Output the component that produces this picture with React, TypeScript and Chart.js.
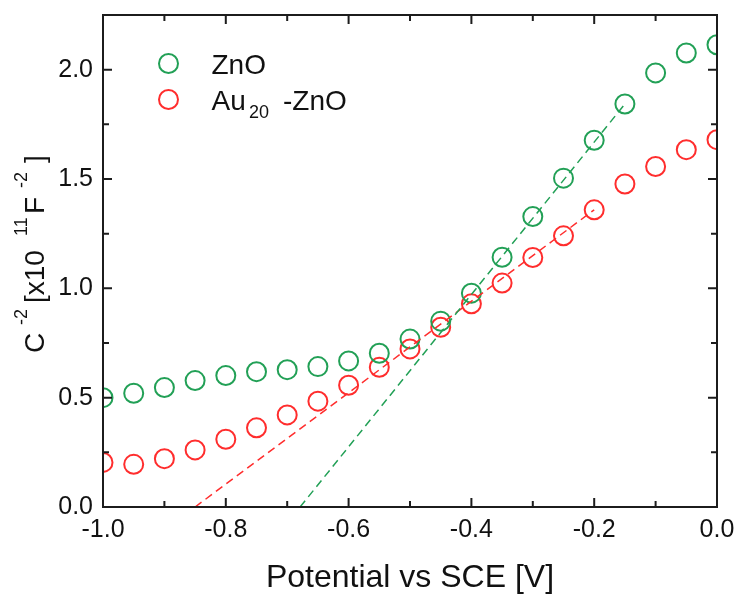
import React, { useEffect, useRef } from 'react';
import { Chart, registerables } from 'chart.js';

Chart.register(...registerables);

// ---- data ----
const potentials = [-1.0, -0.95, -0.9, -0.85, -0.8, -0.75, -0.7, -0.65, -0.6, -0.55, -0.5, -0.45, -0.4, -0.35, -0.3, -0.25, -0.2, -0.15, -0.1, -0.05, 0.0];
const znoValues = [0.5, 0.52, 0.546, 0.578, 0.601, 0.619, 0.628, 0.642, 0.668, 0.703, 0.768, 0.85, 0.978, 1.142, 1.328, 1.504, 1.677, 1.843, 1.985, 2.076, 2.114];
const auValues = [0.204, 0.195, 0.221, 0.261, 0.31, 0.362, 0.421, 0.484, 0.557, 0.639, 0.723, 0.822, 0.929, 1.024, 1.141, 1.24, 1.359, 1.477, 1.557, 1.634, 1.68];
const znoFitX = [-0.679, -0.15];
const znoFitY = [0, 1.843];
const auFitX = [-0.85, -0.2];
const auFitY = [0, 1.359];
const xMajorTicks = [-1.0, -0.8, -0.6, -0.4, -0.2, 0.0];
const xMinorTicks = [-0.9, -0.7, -0.5, -0.3, -0.1];
const yMajorTicks = [0, 0.5, 1.0, 1.5, 2.0];
const yMinorTicks = [0.25, 0.75, 1.25, 1.75];

const FONT = '"Liberation Sans", Arial, Helvetica, sans-serif';
const GREEN = 'rgb(34,160,86)';
const RED = 'rgb(255,45,45)';
const AXIS = '#1c1c1c';

export default function App() {
  const ref = useRef<HTMLCanvasElement>(null);

  useEffect(() => {
    const canvas = ref.current;
    if (!canvas) return;
    const pts = (xs: number[], ys: number[]) => xs.map((x, i) => ({ x, y: ys[i] }));

    const decor = {
      id: 'decor',
      afterDraw(chart: any) {
        const { ctx, chartArea: a, scales } = chart;
        const xs = scales.x;
        const ys = scales.y;
        ctx.save();
        // frame
        ctx.strokeStyle = AXIS;
        ctx.lineWidth = 2;
        ctx.strokeRect(a.left, a.top, a.right - a.left, a.bottom - a.top);
        // inward ticks on all sides
        const xt = (v: number, len: number) => {
          const p = xs.getPixelForValue(v);
          ctx.beginPath();
          ctx.moveTo(p, a.bottom);
          ctx.lineTo(p, a.bottom - len);
          ctx.moveTo(p, a.top);
          ctx.lineTo(p, a.top + len);
          ctx.stroke();
        };
        const yt = (v: number, len: number) => {
          const p = ys.getPixelForValue(v);
          ctx.beginPath();
          ctx.moveTo(a.left, p);
          ctx.lineTo(a.left + len, p);
          ctx.moveTo(a.right, p);
          ctx.lineTo(a.right - len, p);
          ctx.stroke();
        };
        xMajorTicks.forEach((v) => xt(v, 9));
        xMinorTicks.forEach((v) => xt(v, 6));
        yMajorTicks.forEach((v) => yt(v, 9));
        yMinorTicks.forEach((v) => yt(v, 6));

        // legend
        ctx.lineWidth = 2;
        ctx.strokeStyle = GREEN;
        ctx.beginPath();
        ctx.arc(168.5, 63.5, 9.5, 0, Math.PI * 2);
        ctx.stroke();
        ctx.strokeStyle = RED;
        ctx.beginPath();
        ctx.arc(168.5, 99.5, 9.5, 0, Math.PI * 2);
        ctx.stroke();
        ctx.fillStyle = '#111';
        ctx.textAlign = 'left';
        ctx.textBaseline = 'alphabetic';
        ctx.font = `28px ${FONT}`;
        ctx.fillText('ZnO', 211.5, 73.5);
        ctx.fillText('Au', 211.5, 110);
        ctx.fillText('-ZnO', 283, 110);
        ctx.font = `18px ${FONT}`;
        ctx.fillText('20', 249, 118);

        // x axis title
        ctx.font = `32px ${FONT}`;
        ctx.textAlign = 'center';
        ctx.fillText('Potential vs SCE [V]', (a.left + a.right) / 2, 587);

        // y axis title (rotated, with superscripts)
        const segs: [string, number, number, number][] = [
          ['C', 28, 43.5, 353],
          ['-2', 18, 27, 325],
          ['[x10', 28, 43.5, 303],
          ['11', 18, 27, 236],
          ['F', 28, 43.5, 214],
          ['-2', 18, 27, 188],
          [']', 28, 43.5, 163],
        ];
        ctx.textAlign = 'left';
        segs.forEach(([t, size, bx, by]) => {
          ctx.save();
          ctx.translate(bx, by);
          ctx.rotate(-Math.PI / 2);
          ctx.font = `${size}px ${FONT}`;
          ctx.fillText(t, 0, 0);
          ctx.restore();
        });
        ctx.restore();
      },
    };

    const chart = new Chart(canvas, {
      type: 'scatter',
      data: {
        datasets: [
          {
            label: 'ZnO fit',
            data: pts(znoFitX, znoFitY),
            showLine: true,
            borderColor: GREEN,
            borderWidth: 1.5,
            borderDash: [8, 5],
            pointRadius: 0,
            fill: false,
            clip: 0,
          },
          {
            label: 'Au20-ZnO fit',
            data: pts(auFitX, auFitY),
            showLine: true,
            borderColor: RED,
            borderWidth: 1.5,
            borderDash: [8, 5],
            pointRadius: 0,
            fill: false,
            clip: 0,
          },
          {
            label: 'ZnO',
            data: pts(potentials, znoValues),
            showLine: false,
            pointStyle: 'circle',
            pointRadius: 9.5,
            borderWidth: 2,
            borderColor: GREEN,
            backgroundColor: 'rgba(0,0,0,0)',
            clip: 0,
          },
          {
            label: 'Au20-ZnO',
            data: pts(potentials, auValues),
            showLine: false,
            pointStyle: 'circle',
            pointRadius: 9.5,
            borderWidth: 2,
            borderColor: RED,
            backgroundColor: 'rgba(0,0,0,0)',
            clip: 0,
          },
        ],
      },
      options: {
        responsive: false,
        maintainAspectRatio: false,
        animation: false,
        devicePixelRatio: 1,
        layout: { padding: { top: 15, right: 21, left: 0, bottom: 0 } },
        plugins: { legend: { display: false }, tooltip: { enabled: false } },
        scales: {
          x: {
            type: 'linear',
            min: -1.0,
            max: 0.0,
            grid: { display: false, drawTicks: false },
            border: { display: false },
            afterFit: (s: any) => {
              s.height = 88;
              s.paddingLeft = 0;
              s.paddingRight = 0;
            },
            afterBuildTicks: (s: any) => {
              s.ticks = xMajorTicks.map((v) => ({ value: v }));
            },
            ticks: {
              padding: 8,
              color: '#111',
              font: { family: FONT, size: 25 },
              maxRotation: 0,
              autoSkip: false,
              callback: (v: any) => Number(v).toFixed(1),
            },
          },
          y: {
            type: 'linear',
            min: 0,
            max: 2.25,
            grid: { display: false, drawTicks: false },
            border: { display: false },
            afterFit: (s: any) => {
              s.width = 103;
              s.paddingTop = 0;
              s.paddingBottom = 0;
            },
            afterBuildTicks: (s: any) => {
              s.ticks = yMajorTicks.map((v) => ({ value: v }));
            },
            ticks: {
              padding: 10,
              color: '#111',
              font: { family: FONT, size: 25 },
              autoSkip: false,
              callback: (v: any) => Number(v).toFixed(1),
            },
          },
        },
      },
      plugins: [decor],
    } as any);

    return () => chart.destroy();
  }, []);

  return (
    <div style={{ position: 'fixed', left: 0, top: 0, width: 738, height: 595, background: '#fff' }}>
      <canvas ref={ref} width={738} height={595} style={{ display: 'block' }} />
    </div>
  );
}
